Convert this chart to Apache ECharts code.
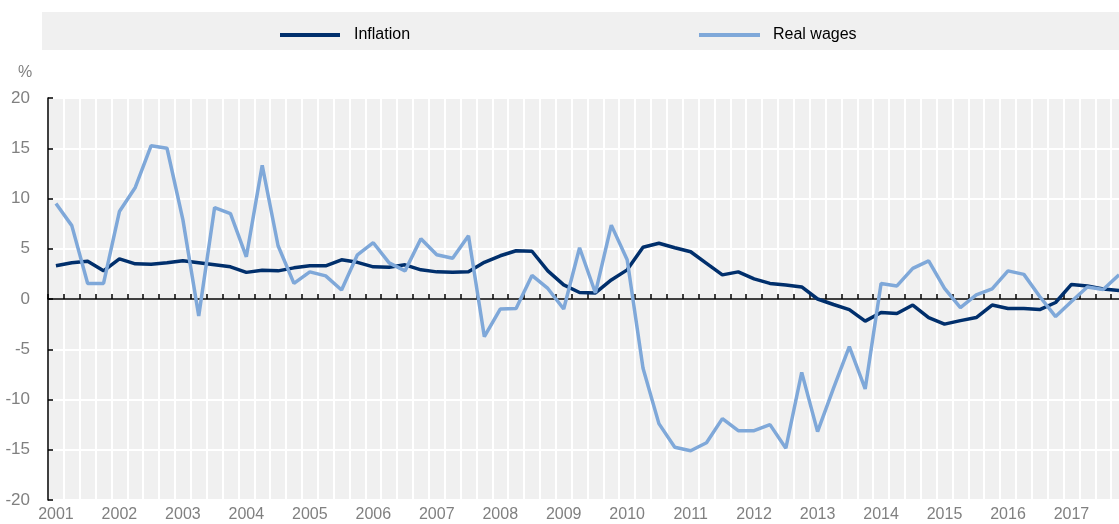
<!DOCTYPE html>
<html>
<head>
<meta charset="utf-8">
<script src="https://cdn.jsdelivr.net/npm/echarts@6/dist/echarts.min.js"></script>
<style>
  html, body { margin: 0; padding: 0; background: #fff; }
  #chart { width: 1119px; height: 524px; }
</style>
</head>
<body>
<div id="chart"></div>
<script>
const years = [2001, 2002, 2003, 2004, 2005, 2006, 2007, 2008, 2009,
  2010, 2011, 2012, 2013, 2014, 2015, 2016, 2017];
const quarters = ['Q1', 'Q2', 'Q3', 'Q4'];

const inflation = [
  3.3, 3.6, 3.75, 2.8, 4.0, 3.5, 3.45, 3.6,
  3.8, 3.6, 3.4, 3.2, 2.65, 2.85, 2.8, 3.1,
  3.3, 3.3, 3.9, 3.65, 3.2, 3.15, 3.4, 2.9,
  2.7, 2.65, 2.7, 3.65, 4.3, 4.8, 4.75, 2.8,
  1.4, 0.65, 0.6, 1.9, 2.9, 5.15, 5.55, 5.1,
  4.7, 3.55, 2.4, 2.7, 2.0, 1.55, 1.4, 1.2,
  0.0, -0.55, -1.05, -2.2, -1.35, -1.45, -0.6, -1.85,
  -2.5, -2.15, -1.85, -0.6, -0.95, -0.95, -1.05, -0.35,
  1.45, 1.3, 1.0, 0.85
];

const realWages = [
  9.5, 7.3, 1.55, 1.55, 8.7, 11.1, 15.25, 15.0,
  7.9, -1.7, 9.1, 8.5, 4.2, 13.3, 5.3, 1.55,
  2.7, 2.3, 0.9, 4.4, 5.6, 3.6, 2.8, 6.0,
  4.4, 4.05, 6.3, -3.75, -1.0, -0.95, 2.35, 1.05,
  -1.0, 5.1, 0.6, 7.35, 3.9, -6.9, -12.4, -14.75,
  -15.1, -14.3, -11.9, -13.1, -13.1, -12.5, -14.85, -7.3,
  -13.2, -8.9, -4.75, -8.95, 1.55, 1.3, 3.05, 3.8,
  1.05, -0.85, 0.4, 1.0, 2.8, 2.45, 0.25, -1.75,
  -0.25, 1.2, 0.95, 2.4
];

const yTicks = { min: -20, max: 20, interval: 5 };

const categories = [];
years.forEach((y) => quarters.forEach((q) => categories.push(y + '-' + q)));

const axisFont = 'Liberation Sans, Arial, sans-serif';

const chart = echarts.init(document.getElementById('chart'));

chart.setOption({
  animation: false,
  color: ['#002F6C', '#7FA8D9'],
  graphic: [
    {
      type: 'rect',
      shape: { x: 42, y: 12, width: 1077, height: 38 },
      style: { fill: '#f0f0f0' },
      z: -1
    },
    {
      type: 'text',
      x: 25,
      y: 73,
      style: {
        text: '%',
        fill: '#808080',
        font: '16px ' + axisFont,
        align: 'center',
        verticalAlign: 'middle'
      }
    }
  ],
  legend: [
    {
      data: ['Inflation'],
      left: 275,
      top: 22,
      icon: 'rect',
      itemWidth: 60,
      itemHeight: 4,
      textStyle: { fontFamily: axisFont, fontSize: 16, color: '#000', padding: [0, 0, 0, 9] }
    },
    {
      data: ['Real wages'],
      left: 694,
      top: 22,
      icon: 'rect',
      itemWidth: 61,
      itemHeight: 4,
      textStyle: { fontFamily: axisFont, fontSize: 16, color: '#000', padding: [0, 0, 0, 8] }
    }
  ],
  grid: {
    left: 48,
    right: -8,
    top: 98,
    bottom: 24,
    show: true,
    backgroundColor: '#f0f0f0',
    borderWidth: 0,
    outerBoundsMode: 'none'
  },
  xAxis: [
    {
      type: 'category',
      data: categories,
      boundaryGap: true,
      axisLine: { show: false, onZero: false },
      axisTick: { show: false },
      axisLabel: {
        interval: 3,
        margin: 7,
        color: '#808080',
        fontFamily: axisFont,
        fontSize: 16,
        formatter: (v) => v.slice(0, 4)
      },
      splitLine: { show: true, interval: 0, lineStyle: { color: '#fff', width: 2 } }
    },
    {
      type: 'category',
      data: categories,
      boundaryGap: true,
      position: 'bottom',
      axisLine: { onZero: true, onZeroAxisIndex: 0, lineStyle: { color: '#000', width: 1.5 } },
      axisTick: { show: true, inside: true, length: 5, interval: 0, lineStyle: { color: '#000', width: 1.5 } },
      axisLabel: { show: false },
      splitLine: { show: false }
    }
  ],
  yAxis: {
    type: 'value',
    min: yTicks.min,
    max: yTicks.max,
    interval: yTicks.interval,
    axisLine: { show: true, onZero: false, lineStyle: { color: '#000', width: 1.5 } },
    axisTick: { show: true, inside: true, length: 5, lineStyle: { color: '#000', width: 1.5 } },
    axisLabel: {
      margin: 18,
      color: '#808080',
      fontFamily: axisFont,
      fontSize: 17
    },
    splitLine: { show: true, lineStyle: { color: '#fff', width: 2 } }
  },
  series: [
    {
      name: 'Inflation',
      type: 'line',
      data: inflation,
      symbol: 'none',
      lineStyle: { width: 3.5 },
      z: 3
    },
    {
      name: 'Real wages',
      type: 'line',
      data: realWages,
      symbol: 'none',
      lineStyle: { width: 3.5 },
      z: 4
    }
  ]
});

window.addEventListener('resize', () => chart.resize());
</script>
</body>
</html>
